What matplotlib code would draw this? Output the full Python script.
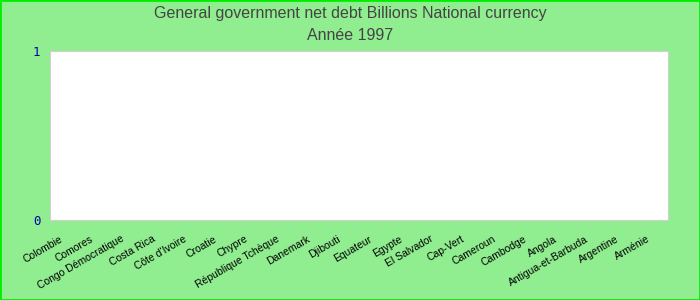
import numpy as np
import matplotlib
matplotlib.use("Agg")
import matplotlib.pyplot as plt
import matplotlib.transforms as mtransforms

plt.rcParams['font.family'] = ['Liberation Sans', 'DejaVu Sans']

pays = ["Colombie", "Comores", "Congo Démocratique", "Costa Rica", "Côte d'Ivoire",
        "Croatie", "Chypre", "République Tchèque", "Danemark", "Djibouti",
        "Equateur", "Egypte", "El Salvador", "Cap-Vert", "Cameroun",
        "Cambodge", "Angola", "Antigua-et-Barbuda", "Argentine", "Arménie"]
# no values reported for 1997
valeurs = [None] * len(pays)
yticks = [0, 1]

fig = plt.figure(figsize=(7, 3), dpi=100, facecolor='#90EE90')
fig.patches.append(plt.Rectangle((0, 0), 1, 1, transform=fig.transFigure,
                                 fill=False, edgecolor='#00EE00', linewidth=2))
ax = fig.add_axes([0.0714, 0.2667, 0.883, 0.5633])
ax.set_facecolor('white')

x = np.arange(len(pays))
h = np.array([np.nan if v is None else v for v in valeurs], dtype=float)
ax.bar(x, h, width=0.6, color='#4472C4')

ax.set_xlim(-0.5, len(pays) - 0.5)
ax.set_ylim(0, 1)
ax.set_yticks(yticks)
ax.set_yticklabels([str(t) for t in yticks], color='#0000AA',
                   fontfamily='DejaVu Sans Mono', fontsize=9)
ax.set_xticks(x)
ax.set_xticklabels(pays, rotation=30, ha='right', rotation_mode='anchor', fontsize=7.5)
ax.tick_params(axis='both', length=0)
ax.tick_params(axis='y', pad=7)
ax.tick_params(axis='x', pad=10)
shift = mtransforms.ScaledTranslation(-6 / 100, 0, fig.dpi_scale_trans)
for lab in ax.get_xticklabels():
    lab.set_transform(lab.get_transform() + shift)
for s in ax.spines.values():
    s.set_color('#D0D0D0')

fig.text(0.5, 0.955, "General government net debt Billions National currency",
         ha='center', va='center', fontsize=11.5, color='#444444')
fig.text(0.5, 0.882, "Année 1997", ha='center', va='center', fontsize=11.5, color='#444444')

fig.savefig("out.png", dpi=100, facecolor=fig.get_facecolor())
